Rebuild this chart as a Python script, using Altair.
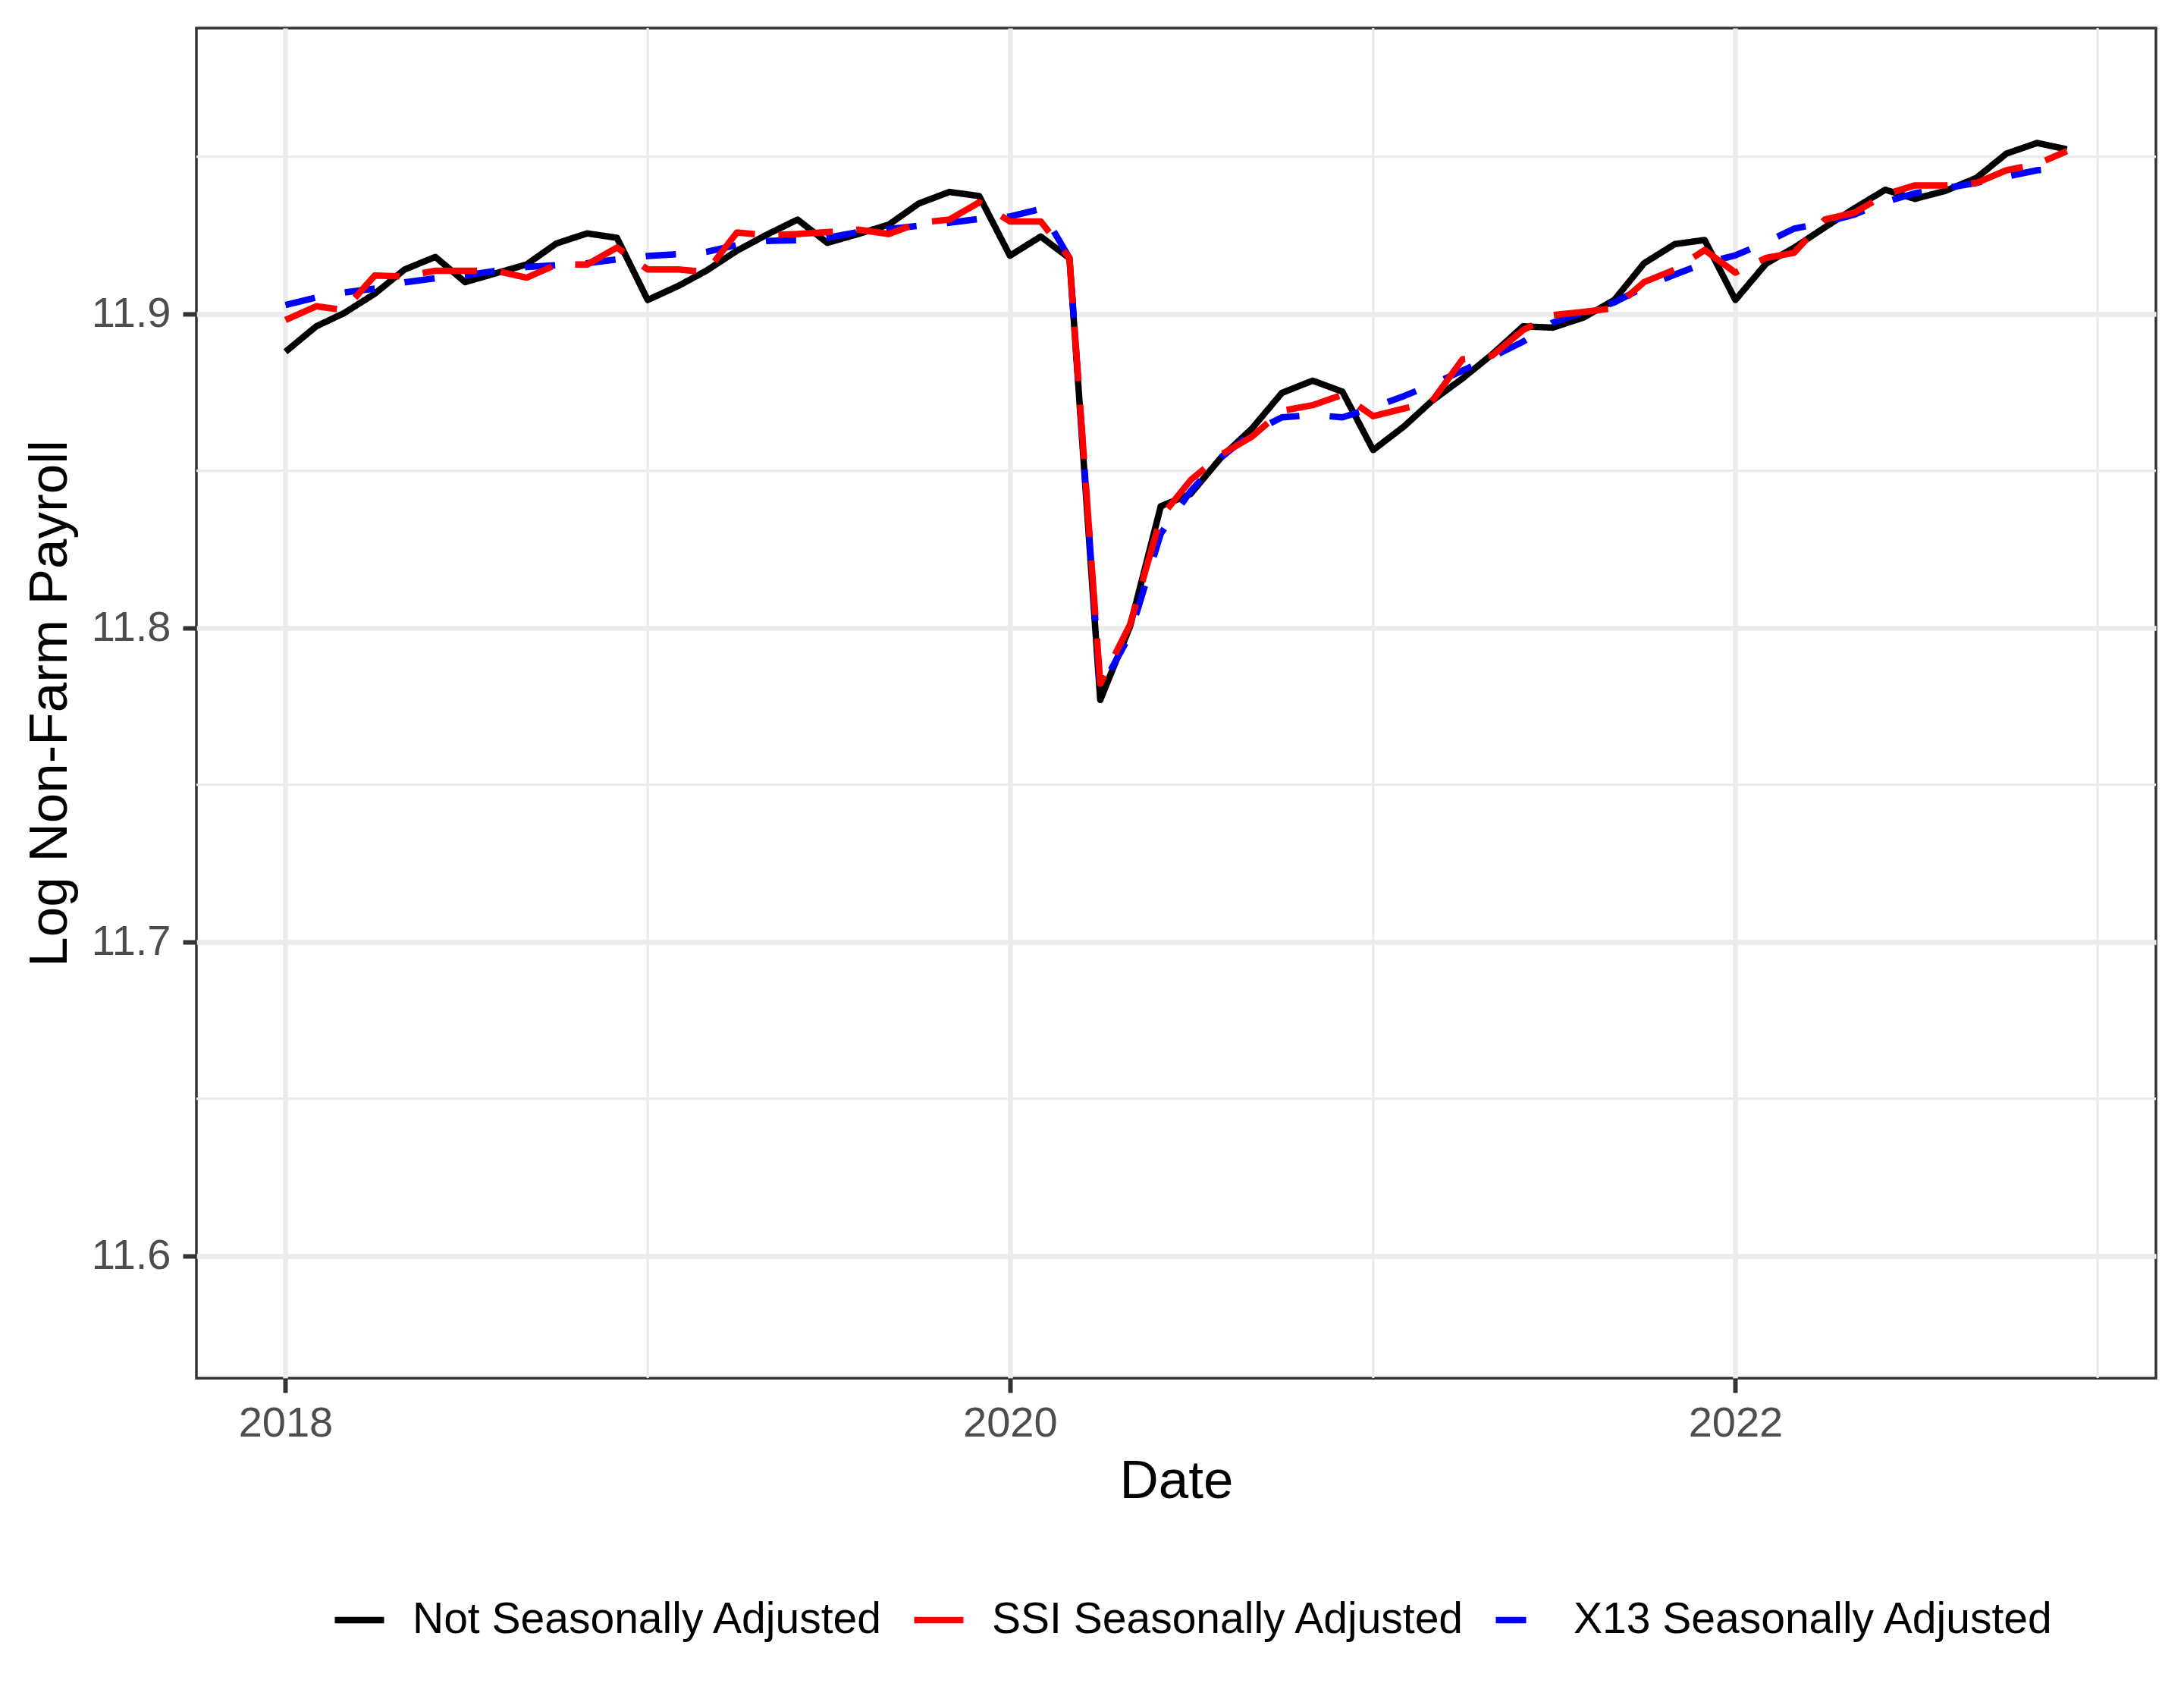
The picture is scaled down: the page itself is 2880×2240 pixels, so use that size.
import altair as alt
import pandas as pd

# ---- data ----
months = pd.date_range("2018-01-01", periods=60, freq="MS").strftime("%Y-%m-%d").tolist()
series_names = ["Not Seasonally Adjusted", "SSI Seasonally Adjusted", "X13 Seasonally Adjusted"]

nsa = [11.8879, 11.8960, 11.9002, 11.9064, 11.9141, 11.9181, 11.9101, 11.9129, 11.9157, 11.9224,
       11.9256, 11.9242, 11.9044, 11.9089, 11.9137, 11.9201, 11.9252, 11.9300, 11.9226, 11.9254,
       11.9284, 11.9351, 11.9388, 11.9375, 11.9185, 11.9246, 11.9177, 11.7770, 11.8004, 11.8387,
       11.8426, 11.8543, 11.8635, 11.8748, 11.8787, 11.8752, 11.8566, 11.8641, 11.8722, 11.8794,
       11.8871, 11.8960, 11.8956, 11.8988, 11.9044, 11.9161, 11.9222, 11.9235, 11.9044, 11.9160,
       11.9210, 11.9275, 11.9336, 11.9395, 11.9366, 11.9392, 11.9433, 11.9510, 11.9544, 11.9524]

ssi = [11.8980, 11.9024, 11.9012, 11.9122, 11.9119, 11.9137, 11.9137, 11.9137, 11.9115, 11.9157,
       11.9157, 11.9211, 11.9141, 11.9141, 11.9133, 11.9259, 11.9250, 11.9254, 11.9260, 11.9268,
       11.9254, 11.9290, 11.9300, 11.9355, 11.9294, 11.9294, 11.9177, 11.7822, 11.8010, 11.8352,
       11.8470, 11.8552, 11.8609, 11.8691, 11.8709, 11.8742, 11.8674, 11.8698, 11.8720, 11.8855,
       11.8867, 11.8948, 11.8996, 11.9006, 11.9018, 11.9101, 11.9141, 11.9203, 11.9131, 11.9178,
       11.9194, 11.9300, 11.9322, 11.9380, 11.9409, 11.9409, 11.9417, 11.9457, 11.9477, 11.9518]

x13 = [11.9028, 11.9052, 11.9068, 11.9080, 11.9100, 11.9113, 11.9122, 11.9137, 11.9149, 11.9155,
       11.9161, 11.9173, 11.9184, 11.9190, 11.9197, 11.9219, 11.9232, 11.9234, 11.9242, 11.9260,
       11.9270, 11.9280, 11.9290, 11.9302, 11.9310, 11.9334, 11.9177, 11.7804, 11.7978, 11.8300,
       11.8435, 11.8543, 11.8622, 11.8670, 11.8678, 11.8670, 11.8702, 11.8738, 11.8774, 11.8819,
       11.8863, 11.8911, 11.8972, 11.9004, 11.9036, 11.9085, 11.9125, 11.9161, 11.9186, 11.9228,
       11.9271, 11.9291, 11.9316, 11.9356, 11.9384, 11.9400, 11.9417, 11.9437, 11.9457, 11.9467]

x_major_years = [2018, 2020, 2022]
x_minor_dates = ["2019-01-01", "2021-01-01", "2023-01-01"]
y_major = [11.6, 11.7, 11.8, 11.9]
y_minor = [11.65, 11.75, 11.85, 11.95]

colors = ["#000000", "#FF0000", "#0000FF"]
dashes = [[1, 0], [72, 31], [40, 40]]

# ---- build table ----
rows = []
for name, vals in zip(series_names, [nsa, ssi, x13]):
    for d, v in zip(months, vals):
        rows.append({"date": d, "value": v, "series": name})
df = pd.DataFrame(rows)

FONT = "Liberation Sans"
LW = 8.5
x_domain = [alt.DateTime(year=2017, month=10, date=3, hours=6, utc=True),
            alt.DateTime(year=2023, month=2, date=28, hours=18, utc=True)]
y_domain = [11.561, 11.991]

x_scale = alt.Scale(type="utc", domain=x_domain)
y_scale = alt.Scale(domain=y_domain, nice=False, zero=False)

x_axis = alt.Axis(
    values=[alt.DateTime(year=y, month=1, date=1, utc=True) for y in x_major_years],
    format="%Y", formatType="utc", title="Date",
    titleFontSize=71, titleColor="#000000", titleFontWeight="normal", titleFont=FONT,
    titleX=1292, titleY=157, titleBaseline="alphabetic", titleAlign="center",
    labelFontSize=56, labelColor="#4D4D4D", labelFont=FONT, labelPadding=13,
    tickSize=19, tickWidth=6, tickColor="#333333",
    grid=True, gridColor="#EBEBEB", gridWidth=6.5, domain=False, labelFlush=False,
)
y_axis = alt.Axis(
    values=y_major, format=".1f", title="Log Non-Farm Payroll",
    titleFontSize=71, titleColor="#000000", titleFontWeight="normal", titleFont=FONT,
    titleX=-172, titleY=890, titleBaseline="alphabetic", titleAlign="center", titleAngle=270,
    labelFontSize=56, labelColor="#4D4D4D", labelFont=FONT, labelPadding=16,
    tickSize=18, tickWidth=6, tickColor="#333333",
    grid=True, gridColor="#EBEBEB", gridWidth=6.5, domain=False, labelFlush=False,
)

color_scale = alt.Scale(domain=series_names, range=colors)
dash_scale = alt.Scale(domain=series_names, range=dashes)
legend = alt.Legend(
    title=None, orient="none", legendX=178, legendY=2062, direction="horizontal",
    symbolType="stroke", symbolSize=4225, symbolStrokeWidth=LW,
    labelFontSize=57, labelColor="#000000", labelFont=FONT, labelLimit=2000,
    labelOffset=33, columnPadding=22, padding=0, columns=3,
)

x_enc = alt.X("date:T", scale=x_scale, axis=x_axis)
y_enc = alt.Y("value:Q", scale=y_scale, axis=y_axis)

vgrid = alt.Chart(pd.DataFrame({"date": x_minor_dates})).mark_rule(
    color="#EBEBEB", strokeWidth=3.3
).encode(x=x_enc)

hgrid = alt.Chart(pd.DataFrame({"value": y_minor})).mark_rule(
    color="#EBEBEB", strokeWidth=3.3
).encode(y=y_enc)

base = alt.Chart(df)


def line_layer(name):
    return base.transform_filter(alt.datum.series == name).mark_line(
        strokeWidth=LW, strokeJoin="round", strokeCap="butt"
    ).encode(
        x=x_enc,
        y=y_enc,
        color=alt.Color("series:N", scale=color_scale, legend=legend),
        strokeDash=alt.StrokeDash("series:N", scale=dash_scale, legend=legend),
    )


chart = alt.layer(
    vgrid, hgrid,
    line_layer(series_names[0]),
    line_layer(series_names[2]),
    line_layer(series_names[1]),
).properties(
    width=2584, height=1780,
    autosize=alt.AutoSizeParams(type="none"),
    padding={"left": 251, "top": 29, "right": 20, "bottom": 380},
    background="#FFFFFF",
).configure(
    font=FONT
).configure_view(
    stroke="#333333", strokeWidth=3.5
)

chart.save("out.html", embed_options={"renderer": "svg", "actions": False})
